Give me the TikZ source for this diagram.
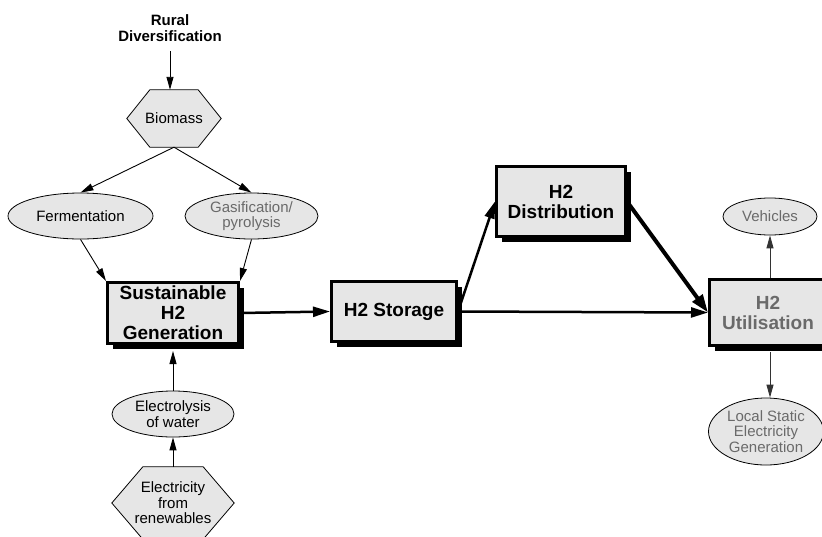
\documentclass[tikz,border=0pt]{standalone}
\usepackage{fontspec}
\setmainfont{Liberation Sans}
\usetikzlibrary{shadows,arrows.meta,backgrounds,calc,shapes.geometric}
\definecolor{boxfill}{HTML}{E6E6E6}
\definecolor{txtgray}{HTML}{6A6A6A}
\begin{document}
\begin{tikzpicture}[x=1pt,y=-1pt,
  smallfont/.style={font=\fontsize{15}{15.5}\selectfont},
  lbl/.style={align=center, inner sep=0pt, font=\bfseries\fontsize{15}{15.5}\selectfont},
  ell/.style={ellipse, draw, line width=0.8pt, fill=boxfill, inner sep=0pt, align=center, smallfont},
  hexnode/.style={inner sep=0pt, align=center, smallfont},
  hexdraw/.style={draw, line width=0.8pt, fill=boxfill},
  bigbox/.style={draw, line width=3pt, fill=boxfill, inner sep=0pt, align=center,
     font=\bfseries\fontsize{19}{20}\selectfont,
     drop shadow={shadow xshift=5pt, shadow yshift=-5pt, fill=black, opacity=1}},
  thinarrow/.style={line width=0.9pt, -{Triangle[length=13pt,width=7pt]}},
  mainarrow/.style={line width=2.5pt, -{Triangle[length=17pt,width=10pt]}},
  heavyarrow/.style={line width=4pt, -{Triangle[length=18pt,width=12pt]}},
]
\useasboundingbox (0,0) rectangle (822,536);

% top label
\node[lbl] (rural) at (170,28) {Rural\\Diversification};

% hexagons (text nodes; outline drawn on background layer)
\node[hexnode, minimum width=94pt, minimum height=57pt] (biomass) at (174,118.5) {Biomass};
\node[hexnode, minimum width=122pt, minimum height=72pt] (elec) at (173,503) {Electricity\\from\\renewables};

% ellipses
\node[ell, minimum width=145pt, minimum height=46pt] (ferm) at (80.5,216) {Fermentation};
\node[ell, minimum width=133pt, minimum height=46pt, text=txtgray] (gas) at (251.5,216) {Gasification/\\pyrolysis};
\node[ell, minimum width=122pt, minimum height=46pt] (lysis) at (173,414) {Electrolysis\\of water};
\node[ell, minimum width=94pt, minimum height=37pt, text=txtgray] (veh) at (770,216.5) {Vehicles};
\node[ell, minimum width=115pt, minimum height=67pt, text=txtgray] (local) at (766,431.5) {Local Static\\Electricity\\Generation};

% main boxes
\node[bigbox, minimum width=131pt, minimum height=61pt] (sus) at (173,313) {Sustainable\\H2\\Generation};
\node[bigbox, minimum width=125pt, minimum height=60pt] (stor) at (394,311.5) {H2 Storage};
\node[bigbox, minimum width=129pt, minimum height=70pt] (dist) at (561,201.5) {H2\\Distribution};
\node[bigbox, minimum width=117pt, minimum height=66pt, text=txtgray] (util) at (768,312.5) {H2\\Utilisation};

\begin{scope}[on background layer]
  \draw[hexdraw] (biomass.west) -- ($(biomass.north west)+(23,0)$) -- ($(biomass.north east)+(-23,0)$)
     -- (biomass.east) -- ($(biomass.south east)+(-23,0)$) -- ($(biomass.south west)+(23,0)$) -- cycle;
  \draw[hexdraw] (elec.west) -- ($(elec.north west)+(31,0)$) -- ($(elec.north east)+(-31,0)$)
     -- (elec.east) -- ($(elec.south east)+(-31,0)$) -- ($(elec.south west)+(31,0)$) -- cycle;
\end{scope}

% connectors
\draw[thinarrow, shorten <=10pt] (rural.south) -- (rural.south |- biomass.north);
\draw[thinarrow] (biomass.south) -- (ferm.north);
\draw[thinarrow] (biomass.south) -- (gas.north);
\draw[thinarrow] (ferm.south) -- (sus.north west);
\draw[thinarrow] (gas.south) -- (sus.north east);
\draw[thinarrow] (lysis.north) -- ($(sus.south)+(0,6)$);
\draw[thinarrow] (elec.north) -- (lysis.south);
\draw[mainarrow] (sus.east) -- (stor.west);
\draw[mainarrow] (stor.east) -- (dist.west);
\draw[mainarrow] (stor.east) -- (util.west);
\draw[heavyarrow] (dist.east) -- (util.west);
\draw[thinarrow, draw=black!80] (util.north -| veh.south) -- (veh.south);
\draw[thinarrow, draw=black!80] ($(util.south -| veh.south)+(0,5)$) -- (local.north -| veh.south);
\end{tikzpicture}
\end{document}
